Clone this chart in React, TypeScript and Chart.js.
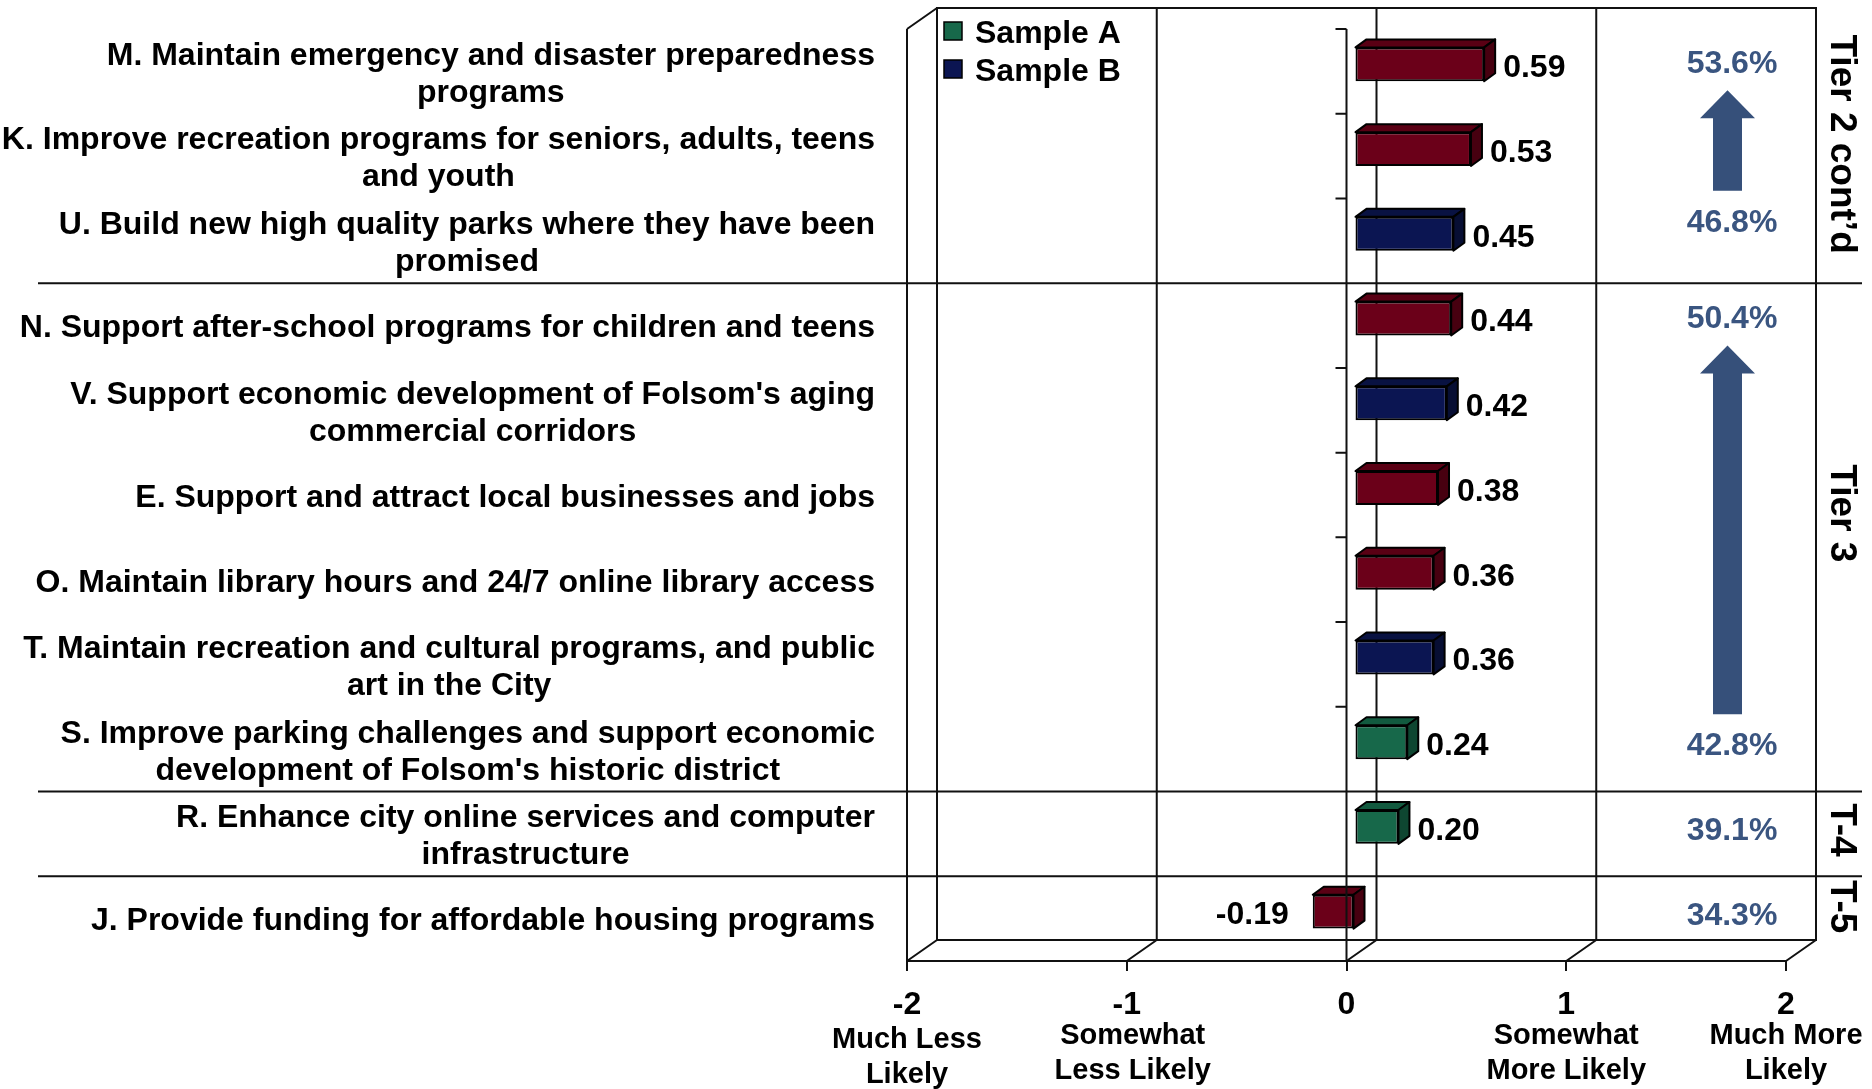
import React, { useEffect, useRef } from 'react';
import { Chart, registerables } from 'chart.js';

Chart.register(...registerables);

// ---------------- data ----------------
const categories: string[][] = [
  ['M. Maintain emergency and disaster preparedness', 'programs'],
  ['K. Improve recreation programs for seniors, adults, teens', 'and youth'],
  ['U. Build new high quality parks where they have been', 'promised'],
  ['N. Support after-school programs for children and teens'],
  ["V. Support economic development of Folsom's aging", 'commercial corridors'],
  ['E. Support and attract local businesses and jobs'],
  ['O. Maintain library hours and 24/7 online library access'],
  ['T. Maintain recreation and cultural programs, and public', 'art in the City'],
  ['S. Improve parking challenges and support economic', "development of Folsom's historic district"],
  ['R. Enhance city online services and computer', 'infrastructure'],
  ['J. Provide funding for affordable housing programs'],
];
const values = [0.59, 0.53, 0.45, 0.44, 0.42, 0.38, 0.36, 0.36, 0.24, 0.2, -0.19];
const sampleKeys = ['Both', 'Both', 'B', 'Both', 'B', 'Both', 'Both', 'B', 'A', 'A', 'Both'];
const legendLabels = ['Sample A', 'Sample B'];
const legendKeys = ['A', 'B'];
const xTickValues = [-2, -1, 0, 1, 2];
const xTickDescriptions = [
  ['Much Less', 'Likely'],
  ['Somewhat', 'Less Likely'],
  [],
  ['Somewhat', 'More Likely'],
  ['Much More', 'Likely'],
];
const percentLabels = ['53.6%', '46.8%', '50.4%', '42.8%', '39.1%', '34.3%'];
const percentRows = [0, 2, 3, 8, 9, 10];
const arrowTopLabel = [0, 2];
const arrowBottomLabel = [1, 3];
const tierLabels = ['Tier 2 cont\u2019d', 'Tier 3', 'T-4', 'T-5'];
const tierFirstRow = [0, 3, 9, 10];
const tierLastRow = [2, 8, 9, 10];

// ---------------- styles ----------------
const FONT = '"Liberation Sans", Arial, Helvetica, sans-serif';
const FRONT: Record<string, string> = { Both: '#6B0019', A: '#17684A', B: '#0B1552' };
const TOP: Record<string, string> = { Both: '#5A0014', A: '#125A3F', B: '#091242' };
const SIDE: Record<string, string> = { Both: '#470010', A: '#0E4631', B: '#070E33' };
const LINE = '#111111';
const PCT_COLOR = '#3A5580';
const ARROW_COLOR = '#36507A';

const BAR_DX = 8;
const BAR_DY = -7;
const DEPTH_X = 11;
const DEPTH_Y = -8;
const WALL_DX = 30;
const WALL_DY = -21;
const PCT_NUDGE = [-7, -18, -6, -3, -3, -2];
const TIER_NUDGE = [-12, -24, -4, -12];

export default function App() {
  const ref = useRef<HTMLCanvasElement>(null);

  useEffect(() => {
    document.body.style.margin = '0';
    const canvas = ref.current!;

    const rowGeom = (chart: any) => {
      const a = chart.chartArea;
      const rowH = (a.bottom - a.top) / categories.length;
      return { a, rowH };
    };

    const framePlugin = {
      id: 'frame3d',
      beforeDatasetsDraw(chart: any) {
        const { ctx, scales } = chart;
        const x = scales.x;
        const { a } = rowGeom(chart);
        const L = a.left, R = a.right, T = a.top, B = a.bottom;
        ctx.save();
        ctx.strokeStyle = LINE;
        ctx.lineWidth = 2;
        ctx.beginPath();
        // back wall
        ctx.rect(L + WALL_DX, T + WALL_DY, R - L, B - T);
        for (const v of xTickValues) {
          const px = x.getPixelForValue(v) + WALL_DX;
          ctx.moveTo(px, T + WALL_DY);
          ctx.lineTo(px, B + WALL_DY);
        }
        // left wall
        ctx.moveTo(L, T);
        ctx.lineTo(L, B);
        ctx.moveTo(L, T);
        ctx.lineTo(L + WALL_DX, T + WALL_DY);
        // floor
        ctx.moveTo(L, B);
        ctx.lineTo(R, B);
        for (const v of xTickValues) {
          const px = x.getPixelForValue(v);
          ctx.moveTo(px, B);
          ctx.lineTo(px + WALL_DX, B + WALL_DY);
        }
        ctx.stroke();
        ctx.restore();
      },
      beforeDatasetDraw(chart: any) {
        chart.ctx.save();
        chart.ctx.translate(BAR_DX, BAR_DY);
      },
      afterDatasetDraw(chart: any, args: any) {
        const { ctx } = chart;
        const meta = chart.getDatasetMeta(args.index);
        meta.data.forEach((el: any, i: number) => {
          const p = el.getProps(['x', 'y', 'base', 'height'], true);
          const left = Math.min(p.x, p.base);
          const right = Math.max(p.x, p.base);
          const top = p.y - p.height / 2;
          const bottom = p.y + p.height / 2;
          const key = sampleKeys[i];
          ctx.lineWidth = 2;
          ctx.strokeStyle = '#000';
          ctx.lineJoin = 'round';
          // top face
          ctx.beginPath();
          ctx.moveTo(left, top);
          ctx.lineTo(right, top);
          ctx.lineTo(right + DEPTH_X, top + DEPTH_Y);
          ctx.lineTo(left + DEPTH_X, top + DEPTH_Y);
          ctx.closePath();
          ctx.fillStyle = TOP[key];
          ctx.fill();
          ctx.stroke();
          // side face
          ctx.beginPath();
          ctx.moveTo(right, top);
          ctx.lineTo(right + DEPTH_X, top + DEPTH_Y);
          ctx.lineTo(right + DEPTH_X, bottom + DEPTH_Y);
          ctx.lineTo(right, bottom);
          ctx.closePath();
          ctx.fillStyle = SIDE[key];
          ctx.fill();
          ctx.stroke();
          // value label
          const v = values[i];
          ctx.fillStyle = '#000';
          ctx.font = `bold 32px ${FONT}`;
          ctx.textBaseline = 'middle';
          if (v >= 0) {
            ctx.textAlign = 'left';
            ctx.fillText(v.toFixed(2), right + 19, p.y + 4);
          } else {
            ctx.textAlign = 'right';
            ctx.fillText(v.toFixed(2), left - 24, p.y + 4);
          }
        });
        ctx.restore();
      },
      afterDatasetsDraw(chart: any) {
        const { ctx, scales } = chart;
        const x = scales.x;
        const { a, rowH } = rowGeom(chart);
        const x0 = x.getPixelForValue(0);
        ctx.save();
        ctx.strokeStyle = LINE;
        ctx.lineWidth = 2;
        ctx.beginPath();
        ctx.moveTo(x0, a.top);
        ctx.lineTo(x0, a.bottom);
        for (let k = 0; k <= categories.length; k++) {
          const yy = a.top + k * rowH;
          ctx.moveTo(x0 - 11, yy);
          ctx.lineTo(x0, yy);
        }
        // tier separators
        for (let t = 1; t < tierFirstRow.length; t++) {
          const yy = a.top + tierFirstRow[t] * rowH;
          ctx.moveTo(38, yy);
          ctx.lineTo(1862, yy);
        }
        ctx.stroke();
        ctx.restore();
      },
      afterDraw(chart: any) {
        const { ctx, scales } = chart;
        const x = scales.x;
        const y = scales.y;
        const { a, rowH } = rowGeom(chart);
        ctx.save();
        ctx.textBaseline = 'middle';

        // category labels: right aligned block, centered lines
        ctx.font = `bold 32px ${FONT}`;
        ctx.fillStyle = '#000';
        ctx.textAlign = 'center';
        const labelRight = a.left - 32;
        categories.forEach((lines, i) => {
          const maxW = Math.max(...lines.map((s) => ctx.measureText(s).width));
          const cx = labelRight - maxW / 2;
          const cy = y.getPixelForValue(i) + 3;
          lines.forEach((s, j) => {
            ctx.fillText(s, cx, cy + (j - (lines.length - 1) / 2) * 37);
          });
        });

        // x tick descriptions
        ctx.font = `bold 29px ${FONT}`;
        xTickValues.forEach((v, i) => {
          const px = x.getPixelForValue(v);
          const extra = v === -2 ? 4 : 0;
          xTickDescriptions[i].forEach((s, j) => {
            ctx.fillText(s, px + (v === -1 ? 6 : 0), 1036 + extra + j * 35);
          });
        });

        // legend
        legendLabels.forEach((s, i) => {
          const ly = 31 + i * 38;
          ctx.fillStyle = FRONT[legendKeys[i]];
          ctx.fillRect(944, ly - 9, 18, 18);
          ctx.strokeStyle = '#000';
          ctx.lineWidth = 1.5;
          ctx.strokeRect(944, ly - 9, 18, 18);
          ctx.fillStyle = '#000';
          ctx.textAlign = 'left';
          ctx.font = `bold 32px ${FONT}`;
          ctx.fillText(s, 975, ly + 3);
        });

        // percentage labels
        const pctX = 1732;
        const pctY = percentRows.map((r, i) => y.getPixelForValue(r) + PCT_NUDGE[i]);
        ctx.font = `bold 32px ${FONT}`;
        ctx.fillStyle = PCT_COLOR;
        ctx.textAlign = 'center';
        percentLabels.forEach((s, i) => ctx.fillText(s, pctX, pctY[i]));

        // arrows
        ctx.fillStyle = ARROW_COLOR;
        arrowTopLabel.forEach((ti, k) => {
          const tip = pctY[ti] + 26;
          const bottom = pctY[arrowBottomLabel[k]] - 32;
          const cx = 1727.5;
          const headH = 28;
          ctx.beginPath();
          ctx.moveTo(cx, tip);
          ctx.lineTo(cx + 27.5, tip + headH);
          ctx.lineTo(cx + 14.5, tip + headH);
          ctx.lineTo(cx + 14.5, bottom);
          ctx.lineTo(cx - 14.5, bottom);
          ctx.lineTo(cx - 14.5, tip + headH);
          ctx.lineTo(cx - 27.5, tip + headH);
          ctx.closePath();
          ctx.fill();
        });

        // tier labels (rotated)
        ctx.font = `bold 37px ${FONT}`;
        ctx.fillStyle = '#000';
        ctx.textAlign = 'center';
        tierLabels.forEach((s, i) => {
          const cy = a.top + ((tierFirstRow[i] + tierLastRow[i] + 1) / 2) * rowH + TIER_NUDGE[i];
          ctx.save();
          ctx.translate(1841, cy);
          ctx.rotate(Math.PI / 2);
          ctx.fillText(s, 0, 0);
          ctx.restore();
        });
        ctx.restore();
      },
    };

    const chart = new Chart(canvas, {
      type: 'bar',
      data: {
        labels: categories,
        datasets: [
          {
            label: 'Mean score',
            data: values,
            backgroundColor: sampleKeys.map((k) => FRONT[k]),
            borderColor: '#000',
            borderWidth: 2,
            borderSkipped: false,
            barPercentage: 0.4,
            categoryPercentage: 1,
          },
        ],
      },
      options: {
        indexAxis: 'y',
        responsive: false,
        maintainAspectRatio: false,
        animation: false,
        devicePixelRatio: 1,
        layout: { padding: { top: 29, right: 86, left: 0, bottom: 0 } },
        plugins: { legend: { display: false }, tooltip: { enabled: false } },
        scales: {
          x: {
            type: 'linear',
            min: -2,
            max: 2,
            afterBuildTicks: (s: any) => {
              s.ticks = xTickValues.map((v) => ({ value: v }));
            },
            ticks: {
              color: '#000',
              font: { family: FONT, size: 32, weight: 'bold' },
              padding: 15,
              callback: (v: any) => String(v),
            },
            grid: {
              display: true,
              drawOnChartArea: false,
              drawTicks: true,
              tickLength: 10,
              color: LINE,
              lineWidth: 2,
            },
            border: { display: false },
            afterFit: (s: any) => {
              s.height = 128;
            },
          },
          y: {
            type: 'category',
            ticks: { display: false },
            grid: { display: false },
            border: { display: false },
            afterFit: (s: any) => {
              s.width = 907;
            },
          },
        },
      } as any,
      plugins: [framePlugin],
    });
    return () => chart.destroy();
  }, []);

  return (
    <div style={{ width: 1872, height: 1089, background: '#fff' }}>
      <canvas ref={ref} width={1872} height={1089} style={{ display: 'block', width: 1872, height: 1089 }} />
    </div>
  );
}
